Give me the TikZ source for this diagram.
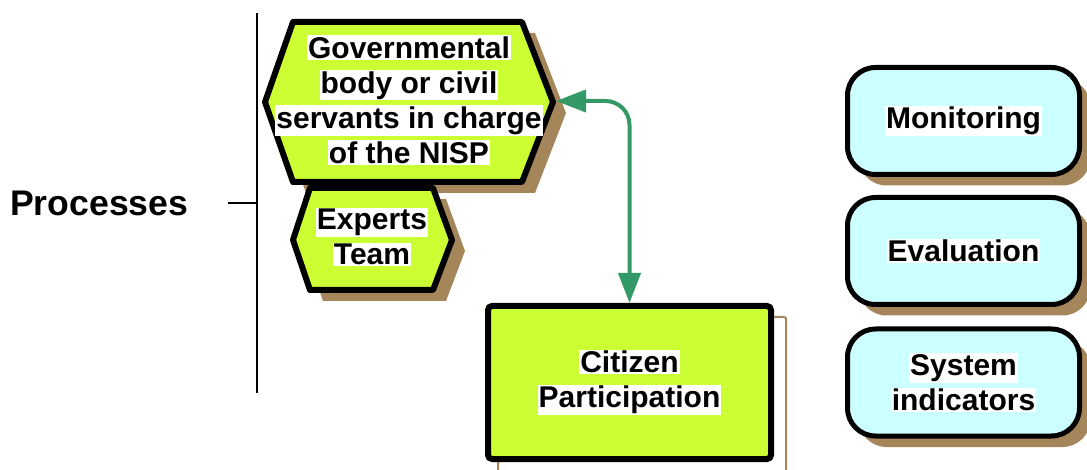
\documentclass[tikz,border=0pt]{standalone}
\usepackage{fontspec}
\setmainfont{Liberation Sans}
\usetikzlibrary{shadows,arrows.meta}
\definecolor{limefill}{HTML}{CCFF33}
\definecolor{cyanfill}{HTML}{CCFFFF}
\definecolor{shadowc}{HTML}{A5865A}
\definecolor{arrowc}{HTML}{339966}
\newcommand\wl[1]{{\setlength\fboxsep{1pt}\colorbox{white}{#1}}}
\tikzset{
  txt/.style={font=\fontsize{30}{35}\selectfont\bfseries, align=center, inner sep=0pt},
  hexline/.style={draw=black, line width=6pt, line join=round, fill=limefill},
  hexshadow/.style={fill=shadowc},
  citbox/.style={txt, draw=black, line width=6pt, fill=limefill, rounded corners=4pt,
    minimum width=283pt, minimum height=153pt},
  roundbox/.style={txt, draw=black, line width=5pt, fill=cyanfill, rounded corners=28pt,
    minimum width=232pt, minimum height=107pt,
    drop shadow={shadow xshift=11pt, shadow yshift=-11pt, fill=shadowc, opacity=1}},
  link/.style={draw=arrowc, line width=4pt, rounded corners=24pt,
    {Triangle[length=30pt,width=22pt]}-{Triangle[length=30pt,width=22pt]}},
  axis/.style={draw=black, line width=1.5pt}
}
\begin{document}
\begin{tikzpicture}[x=1pt,y=-1pt]
\useasboundingbox (0,0) rectangle (1087,470);
% left label and axis
\node[font=\fontsize{35.6}{40}\selectfont\bfseries, anchor=west, inner sep=0pt] (proc) at (10,203) {Processes};
\coordinate (axTop) at (257,13);
\coordinate (axBot) at (257,393);
\coordinate (tickL) at (228,203);
\coordinate (tickR) at (257,203);
\draw[axis] (axTop) -- (axBot);
\draw[axis] (tickL) -- (tickR);
% governmental hexagon
\fill[hexshadow, shift={(13,11)}] (293,22) -- (522,22) -- (553,102) -- (522,182) -- (293,182) -- (265,102) -- cycle;
\path[hexline] (293,22) -- (522,22) -- (553,102) -- (522,182) -- (293,182) -- (265,102) -- cycle;
\node[txt] (gov) at (409,100) {\wl{Governmental}\\\wl{body or civil}\\\wl{servants in charge}\\\wl{of the NISP}};
\coordinate (govR) at (556,101);
% experts hexagon
\fill[hexshadow, shift={(13,11)}] (310,188) -- (433,188) -- (452,240) -- (433,290) -- (310,290) -- (293,240) -- cycle;
\path[hexline] (310,188) -- (433,188) -- (452,240) -- (433,290) -- (310,290) -- (293,240) -- cycle;
\node[txt] (exp) at (372,237) {\wl{Experts}\\\wl{Team}};
% citizen participation
\draw[shadowc, line width=2pt, rounded corners=2pt] (498,317) rectangle (786,490);
\node[citbox] (cit) at (629.5,382.5) {\wl{Citizen}\\\wl{Participation}};
% connector
\draw[link] (govR) -| (cit.north);
% right boxes
\node[roundbox] (mon) at (963.5,121) {\wl{Monitoring}};
\node[roundbox] (eva) at (963.5,251) {\wl{Evaluation}};
\node[roundbox] (sys) at (963.5,382.5) {\wl{System}\\\wl{indicators}};
\end{tikzpicture}
\end{document}
